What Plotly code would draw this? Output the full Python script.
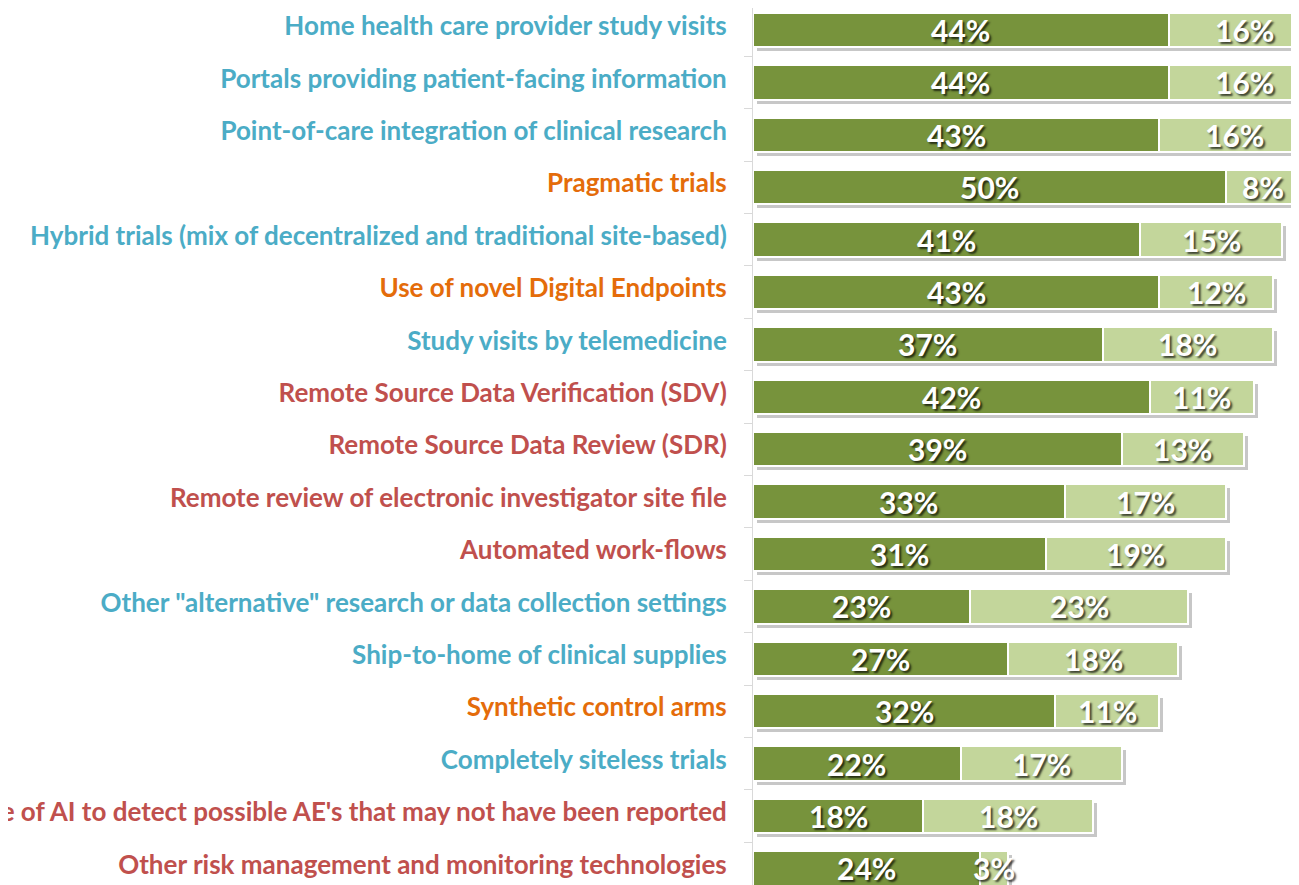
import plotly.graph_objects as go

categories = [
    "Home health care provider study visits",
    "Portals providing patient-facing information",
    "Point-of-care integration of clinical research",
    "Pragmatic trials",
    "Hybrid trials (mix of decentralized and traditional site-based)",
    "Use of novel Digital Endpoints",
    "Study visits by telemedicine",
    "Remote Source Data Verification (SDV)",
    "Remote Source Data Review (SDR)",
    "Remote review of electronic investigator site file",
    "Automated work-flows",
    "Other \"alternative\" research or data collection settings",
    "Ship-to-home of clinical supplies",
    "Synthetic control arms",
    "Completely siteless trials",
    "Use of AI to detect possible AE's that may not have been reported",
    "Other risk management and monitoring technologies",
]
label_groups = ["teal", "teal", "teal", "orange", "teal", "orange", "teal", "red", "red",
                "red", "red", "teal", "teal", "orange", "teal", "red", "red"]
dark_values = [44, 44, 43, 50, 41, 43, 37, 42, 39, 33, 31, 23, 27, 32, 22, 18, 24]
light_values = [16, 16, 16, 8, 15, 12, 18, 11, 13, 17, 19, 23, 18, 11, 17, 18, 3]

group_colors = {"teal": "#4BACC6", "orange": "#E46C0A", "red": "#C0504D"}
DARK = "#77933C"
LIGHT = "#C3D69B"

# geometry (figure pixels; page adds an 8px body margin)
ROW_PX = 52.4
PX_PER_PCT = 9.45
PLOT_W = 546
PLOT_H = 877
n = len(categories)
y_top = -22 / ROW_PX
y_bot = y_top + PLOT_H / ROW_PX
x_max = PLOT_W / PX_PER_PCT
SH_DX, SH_DY = 4, 4

totals = [d + l for d, l in zip(dark_values, light_values)]
dark_centers = [d / 2 for d in dark_values]
light_centers = [d + l / 2 for d, l in zip(dark_values, light_values)]

text_font = dict(family="Lato", size=30, color="white", weight="bold",
                 shadow="2px 2px 2px rgba(0,0,0,0.7)")

fig = go.Figure()
# drop shadow (main axes, shifted)
fig.add_trace(go.Bar(
    y=categories, x=totals, orientation="h", xaxis="x", yaxis="y",
    marker=dict(color="rgba(0,0,0,0.22)", line=dict(width=0)),
    width=0.66, hoverinfo="skip", cliponaxis=False,
))
# actual bars (overlay axes)
for vals, col in [(dark_values, DARK), (light_values, LIGHT)]:
    fig.add_trace(go.Bar(
        y=categories, x=vals, orientation="h", xaxis="x2", yaxis="y2",
        marker=dict(color=col, line=dict(color="white", width=2)),
        width=0.66, hoverinfo="skip",
    ))

annotations = []
for centers, vals in [(dark_centers, dark_values), (light_centers, light_values)]:
    for cat, cx, v in zip(categories, centers, vals):
        annotations.append(dict(
            x=cx, y=cat, xref="x2", yref="y2", text=f"{v}%",
            showarrow=False, xanchor="center", yanchor="middle",
            yshift=0, font=text_font,
        ))

ticktext = [f'<span style="color:{group_colors[g]}">{c}</span>'
            for c, g in zip(categories, label_groups)]

fig.update_layout(
    barmode="stack",
    width=1291, height=877,
    margin=dict(l=745, r=0, t=0, b=0, autoexpand=False),
    paper_bgcolor="white", plot_bgcolor="white",
    showlegend=False,
    annotations=annotations,
    xaxis=dict(range=[-SH_DX / PX_PER_PCT, x_max - SH_DX / PX_PER_PCT],
               visible=False, fixedrange=True, automargin=False),
    yaxis=dict(categoryorder="array", categoryarray=categories,
               range=[y_bot - SH_DY / ROW_PX, y_top - SH_DY / ROW_PX],
               visible=False, fixedrange=True, automargin=False),
    xaxis2=dict(overlaying="x", anchor="y2", range=[0, x_max],
                visible=False, fixedrange=True, automargin=False),
    yaxis2=dict(
        overlaying="y", anchor="x2", side="left",
        categoryorder="array", categoryarray=categories,
        range=[y_bot, y_top],
        tickmode="array", tickvals=categories, ticktext=ticktext,
        tickson="boundaries", ticks="outside", ticklen=8, tickcolor="#D9D9D9",
        showline=True, linecolor="#D9D9D9", linewidth=1,
        tickfont=dict(family="Lato", size=26, weight="bold"),
        ticklabelstandoff=20, ticklabelshift=4,
        showgrid=False, zeroline=False, fixedrange=True,
        automargin=False,
    ),
)

fig.write_html("out.html")
